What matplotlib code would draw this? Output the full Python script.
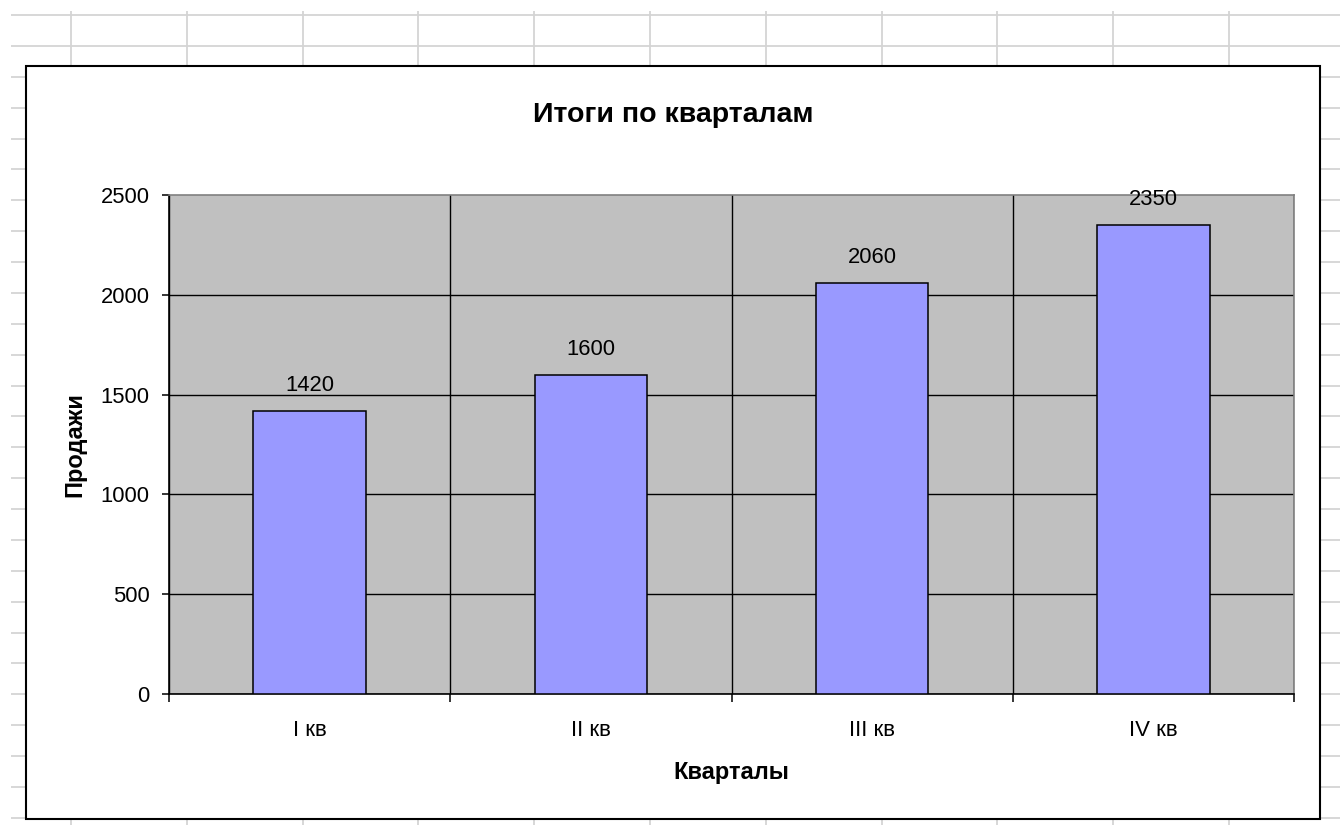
import matplotlib.pyplot as plt
from matplotlib.patches import Rectangle
import numpy as np

plt.rcParams['font.family'] = ['Liberation Sans', 'DejaVu Sans']

# data
quarters = ['I кв', 'II кв', 'III кв', 'IV кв']
sales = [1420, 1600, 2060, 2350]
title = 'Итоги по кварталам'
x_title = 'Кварталы'
y_title = 'Продажи'

W, H = 1340, 825
fig = plt.figure(figsize=(W / 100, H / 100), dpi=100)

# spreadsheet background with cell lines
bg = fig.add_axes([0, 0, 1, 1])
bg.set_xlim(0, W)
bg.set_ylim(H, 0)
bg.axis('off')
cell_color = '#d4d4d4'
rows = np.arange(15, H + 1, 30.88)
cols = np.arange(71, W, 115.8)
bg.hlines(rows, 11, W, color=cell_color, lw=1.3, zorder=1)
bg.vlines(cols, 11, H, color=cell_color, lw=1.3, zorder=1)

# chart area box
bg.add_patch(Rectangle((26, 66), 1320 - 26, 819 - 66, facecolor='white',
                       edgecolor='black', lw=1.5, zorder=2))
fig.text(673 / W, 1 - 115 / H, title, ha='center', va='center',
         fontsize=20.5, fontweight='bold')

# plot area
left, right, top, bottom = 169, 1294, 195, 694
ax = fig.add_axes([left / W, 1 - bottom / H, (right - left) / W, (bottom - top) / H])
ax.set_facecolor('#c0c0c0')

x = np.arange(len(quarters))
bars = ax.bar(x, sales, width=0.4, color='#9999ff', edgecolor='black', lw=1.1, zorder=3)
for xi, v in zip(x, sales):
    ax.annotate(str(v), (xi, v), xytext=(0, 18), textcoords='offset points',
                ha='center', va='center', fontsize=15.8, zorder=4)

ax.set_xlim(-0.5, len(quarters) - 0.5)
ax.set_ylim(0, 2500)
ax.set_yticks(np.arange(0, 2501, 500))
ax.set_xticks(x)
ax.set_xticklabels(quarters)
ax.set_xticks(np.arange(-0.5, len(quarters), 1), minor=True)

ax.tick_params(axis='y', length=5, width=1.1, color='black', pad=9, labelsize=15.8)
ax.tick_params(axis='x', which='major', length=0, pad=18.5, labelsize=16)
ax.tick_params(axis='x', which='minor', length=6, width=1.1, color='black')

ax.grid(axis='y', color='black', lw=1.0, zorder=1)
ax.grid(axis='x', which='minor', color='black', lw=1.0, zorder=1)
ax.set_axisbelow(True)
ax.yaxis.get_gridlines()[-1].set_visible(False)

for s in ['top', 'right']:
    ax.spines[s].set_color('#808080')
    ax.spines[s].set_linewidth(1.2)
for s in ['left', 'bottom']:
    ax.spines[s].set_color('black')
    ax.spines[s].set_linewidth(1.2)

ax.set_xlabel(x_title, fontsize=17, fontweight='bold', va='center')
ax.set_ylabel(y_title, fontsize=17, fontweight='bold', va='center')
ax.xaxis.set_label_coords(0.5, (bottom - 772) / (bottom - top))
ax.yaxis.set_label_coords((75 - left) / (right - left), 0.5)

fig.savefig('out.png', dpi=100)
